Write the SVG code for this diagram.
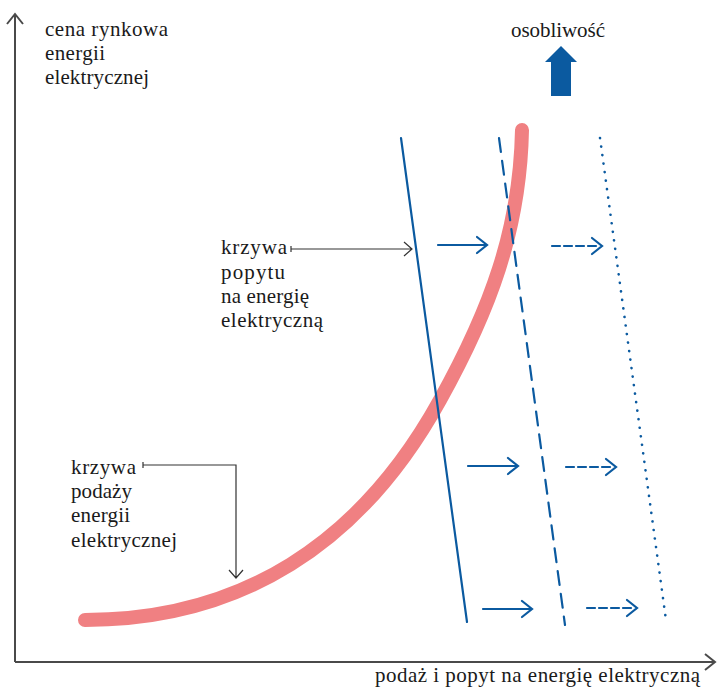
<svg xmlns="http://www.w3.org/2000/svg" width="717" height="688" viewBox="0 0 717 688">
<defs>
<style>
text{font-family:"Liberation Serif","DejaVu Serif",serif;font-size:21px;fill:#1a1a1a}
.ax{stroke:#4a4a4a;stroke-width:2;fill:none}
.ld{stroke:#333;stroke-width:1.2;fill:none}
.bl{stroke:#0b5aa0;fill:none;stroke-linecap:round}
.head{stroke:#0b5aa0;stroke-width:2.2;fill:none;stroke-linecap:round;stroke-linejoin:miter}
</style>
</defs>
<rect width="717" height="688" fill="#fff"/>
<g id="axes">
<path class="ax" d="M15,662 V14 M7,24 L15,14 L23,24"/>
<path class="ax" d="M15,662 H715 M705,654 L715,662 L705,670"/>
</g>
<g id="y-label">
<text x="45" y="36" textLength="123">cena rynkowa</text>
<text x="45" y="60" textLength="60">energii</text>
<text x="45" y="84" textLength="104">elektrycznej</text>
</g>
<g id="x-label"><text x="375" y="682" textLength="325">podaż i popyt na energię elektryczną</text></g>
<g id="osobliwosc">
<text x="511" y="37" textLength="94">osobliwość</text>
<path d="M561,46 L577,62 L571,62 L571,96 L551,96 L551,62 L545,62 Z" fill="#0b5aa0"/>
</g>
<g id="supply-curve">
<path d="M85,620 C240,620 360,545 440,400 C490,310 520,230 522,130" stroke="#f08082" stroke-width="14" fill="none" stroke-linecap="round"/>
</g>
<g id="demand-curves">
<line class="bl" x1="401" y1="138" x2="467" y2="622" stroke-width="2.2"/>
<line class="bl" x1="499" y1="138" x2="565" y2="625" stroke-width="2.2" stroke-dasharray="14 9" stroke-linecap="butt"/>
<line class="bl" x1="600" y1="138" x2="666" y2="620" stroke-width="2.6" stroke-dasharray="0.1 8.5"/>
</g>
<g id="shift-arrows">
<path class="head" d="M438,245 H486 M477,237 L487,245 L477,253"/>
<path class="head" d="M468,466 H517 M508,458 L518,466 L508,474"/>
<path class="head" d="M483,609 H531 M522,601 L532,609 L522,617"/>
<path class="head" d="M552,246 H600" stroke-dasharray="8 4" stroke-linecap="butt"/>
<path class="head" d="M592,238 L602,246 L592,254"/>
<path class="head" d="M566,467 H614" stroke-dasharray="8 4" stroke-linecap="butt"/>
<path class="head" d="M606,459 L616,467 L606,475"/>
<path class="head" d="M587,608 H635" stroke-dasharray="8 4" stroke-linecap="butt"/>
<path class="head" d="M627,600 L637,608 L627,616"/>
</g>
<g id="label-demand">
<text x="221" y="254" textLength="66">krzywa</text>
<text x="221" y="279" textLength="64">popytu</text>
<text x="221" y="303" textLength="88">na energię</text>
<text x="221" y="327" textLength="102">elektryczną</text>
<path class="ld" d="M291,246 V252 M291,249 H412 M404,242 L412,249 L404,256"/>
</g>
<g id="label-supply">
<text x="71" y="474" textLength="65">krzywa</text>
<text x="71" y="498" textLength="61">podaży</text>
<text x="71" y="522" textLength="59">energii</text>
<text x="71" y="547" textLength="106">elektrycznej</text>
<path class="ld" d="M143,462 V468 M143,465 H236 V578 M229,570 L236,578 L243,570"/>
</g>
</svg>
